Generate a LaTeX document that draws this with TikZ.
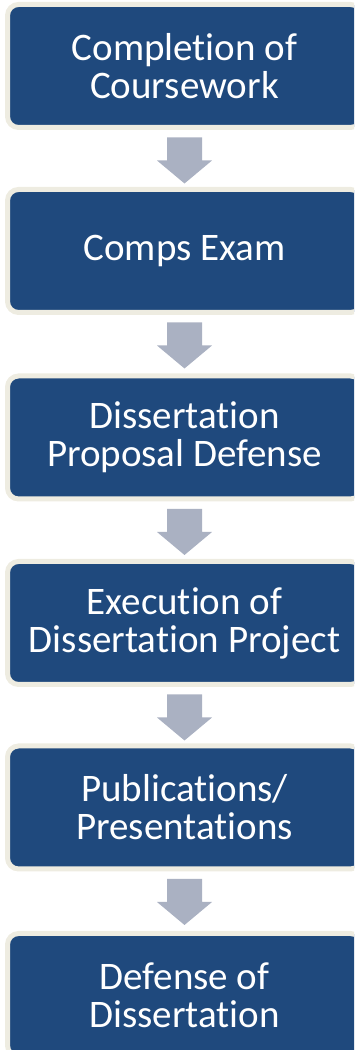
\documentclass[tikz,border=0pt]{standalone}
\usepackage{fontspec}
\setmainfont{Carlito}[Ligatures={NoCommon}]
\definecolor{boxblue}{HTML}{1F497D}
\definecolor{boxbeige}{HTML}{EEECE1}
\definecolor{arrowgray}{HTML}{AAB1C2}
\tikzset{
  stage/.style={rectangle, rounded corners=11pt, fill=boxblue, draw=boxbeige,
    line width=5pt, minimum width=354pt, minimum height=123pt, inner sep=0pt,
    text=white, align=center, font=\fontsize{39}{38}\selectfont},
  flowarrow/.style={fill=arrowgray, draw=none}
}
\newcommand{\downarrowshape}[2]{%
  \fill[flowarrow] ([xshift=-17.5pt,yshift=-7.5pt]#1.south) -- ++(35pt,0) -- ++(0,-23pt)
    -- ++(10pt,0) -- ++(-27.5pt,-23pt) -- ++(-27.5pt,23pt) -- ++(10pt,0) -- cycle;}
\begin{document}
\begin{tikzpicture}[x=1pt,y=1pt]
\useasboundingbox (0,0) rectangle (354,1050);
\clip (0,0) rectangle (354,1050);
\node[stage] (s1) at (184.5,984) {Completion of\\Coursework};
\node[stage] (s2) at (184.5,799) {Comps Exam};
\node[stage] (s3) at (184.5,612.5) {Dissertation\\Proposal Defense};
\node[stage] (s4) at (184.5,427) {Execution of\\Dissertation Project};
\node[stage] (s5) at (184.5,242.5) {Publications/\\Presentations};
\node[stage] (s6) at (184.5,55) {Defense of\\Dissertation};
\downarrowshape{s1}{s2}
\downarrowshape{s2}{s3}
\downarrowshape{s3}{s4}
\downarrowshape{s4}{s5}
\downarrowshape{s5}{s6}
\end{tikzpicture}
\end{document}
